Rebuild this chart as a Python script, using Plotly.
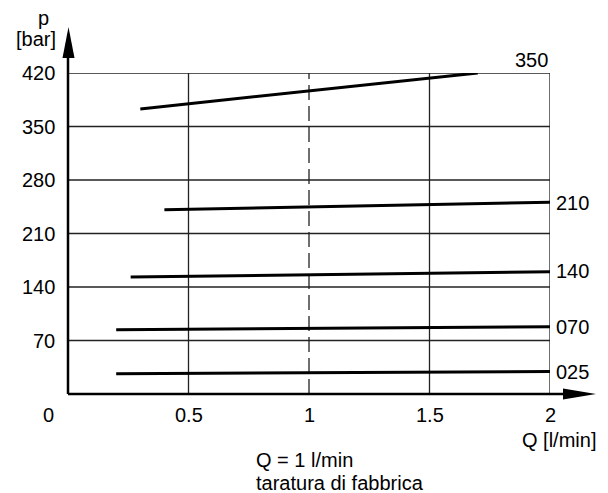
import plotly.graph_objects as go

# Data
series_names = ["025", "070", "140", "210", "350"]
q_start = [0.20, 0.20, 0.26, 0.40, 0.30]
q_end = [2.00, 2.00, 2.00, 2.00, 1.70]
p_start = [26.5, 84.0, 153.0, 241.0, 373.0]
p_end = [29.5, 88.0, 160.0, 251.0, 420.0]

x_ticks = [0.5, 1, 1.5, 2]
x_tick_labels = ["0.5", "1", "1.5", "2"]
y_ticks = [70, 140, 210, 280, 350, 420]
y_tick_labels = ["70", "140", "210", "280", "350", "420"]

FONT = "Liberation Sans, Arial, sans-serif"
FS = 20
OFF = 8  # page body margin
W, H = 608, 493
SX0, SX1, SY0, SY1 = 68, 550, 73, 394
L = SX0 - OFF
T = SY0 - OFF
R = W - (SX1 - OFF)
B = H - (SY1 - OFF)

fig = go.Figure()

for name, x0, x1, y0, y1 in zip(series_names, q_start, q_end, p_start, p_end):
    fig.add_trace(go.Scatter(x=[x0, x1], y=[y0, y1], mode="lines",
                             line=dict(color="black", width=3),
                             name=name, showlegend=False, hoverinfo="skip"))

shapes = []
for xv in x_ticks:
    shapes.append(dict(type="line", xref="x", yref="y", x0=xv, x1=xv, y0=0, y1=420,
                       line=dict(color="#222", width=1.3,
                                 dash="15px,6px" if xv == 1 else "solid"),
                       layer="below"))
for yv in y_ticks:
    shapes.append(dict(type="line", xref="x", yref="y", x0=0, x1=2, y0=yv, y1=yv,
                       line=dict(color="#222", width=1.3), layer="below"))

pw = SX1 - SX0
ph = SY1 - SY0
def px(xpix):
    return (xpix - SX0) / pw
def py(ypix):
    return (SY1 - ypix) / ph

shapes.append(dict(type="line", xref="paper", yref="paper", x0=0, x1=0, y0=0, y1=py(56),
                   line=dict(color="black", width=2.5)))
shapes.append(dict(type="line", xref="paper", yref="paper", x0=0, x1=px(566), y0=0, y1=0,
                   line=dict(color="black", width=2.5)))
shapes.append(dict(type="path", xref="paper", yref="paper",
                   path=f"M {px(62.5)},{py(58)} L {px(74.5)},{py(58)} L {px(68.5)},{py(27)} Z",
                   fillcolor="black", line=dict(color="black", width=0)))
shapes.append(dict(type="path", xref="paper", yref="paper",
                   path=f"M {px(563)},{py(388.5)} L {px(563)},{py(399.5)} L {px(596)},{py(394)} Z",
                   fillcolor="black", line=dict(color="black", width=0)))

annotations = []
def ann(text, xpix, ypix, xanchor="center", yanchor="middle", size=FS):
    annotations.append(dict(text=text, xref="paper", yref="paper", x=px(xpix), y=py(ypix),
                            xanchor=xanchor, yanchor=yanchor, showarrow=False,
                            font=dict(family=FONT, size=size, color="black")))

for xv, lab in zip(x_ticks, x_tick_labels):
    annotations.append(dict(text=lab, xref="x", yref="paper", x=xv, y=py(415),
                            xanchor="center", yanchor="middle", showarrow=False,
                            font=dict(family=FONT, size=FS, color="black")))
for yv, lab in zip(y_ticks, y_tick_labels):
    annotations.append(dict(text=lab, xref="paper", yref="y", x=px(57), y=yv,
                            xanchor="right", yanchor="middle", showarrow=False,
                            font=dict(family=FONT, size=FS, color="black")))
ann("0", 48, 415)

label_pos = {"025": (572, 372), "070": (572, 327), "140": (572, 271),
             "210": (572, 203), "350": (531, 60)}
for name in series_names:
    xp, yp = label_pos[name]
    ann(name, xp, yp)

ann("p", 43, 18)
ann("[bar]", 36, 39)
ann("Q [l/min]", 598, 440, xanchor="right")
ann("Q = 1 l/min", 254, 460, xanchor="left")
ann("taratura di fabbrica", 254, 483, xanchor="left")

fig.update_layout(
    width=W, height=H,
    margin=dict(l=L, r=R, t=T, b=B),
    paper_bgcolor="white", plot_bgcolor="white",
    xaxis=dict(range=[0, 2], showgrid=False, zeroline=False, showticklabels=False,
               showline=False, ticks=""),
    yaxis=dict(range=[0, 420], showgrid=False, zeroline=False, showticklabels=False,
               showline=False, ticks=""),
    shapes=shapes, annotations=annotations,
)

fig.write_html("out.html")
